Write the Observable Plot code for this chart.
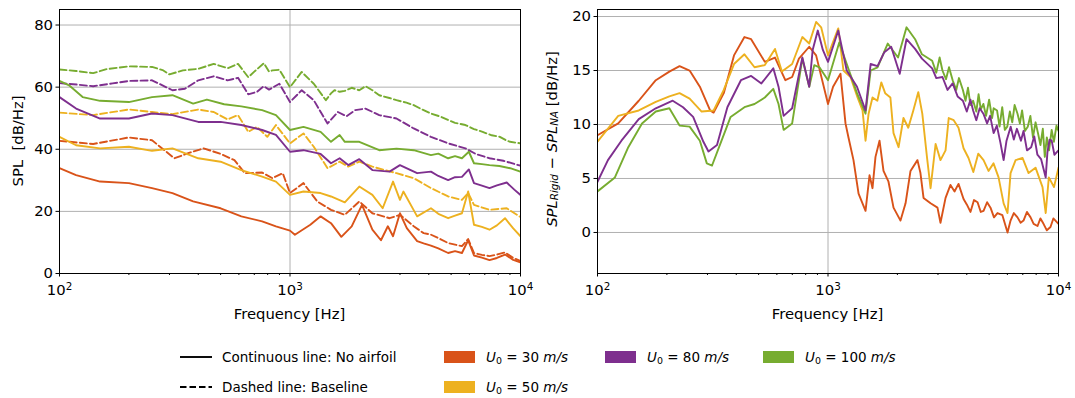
<!DOCTYPE html>
<html><head><meta charset="utf-8">
<script src="https://cdn.jsdelivr.net/npm/d3@7"></script>
<script src="https://cdn.jsdelivr.net/npm/@observablehq/plot@0.6"></script>
<style>
body{margin:0;background:#fff;}
#wrap{width:1075px;height:398px;position:relative;font-family:"DejaVu Sans",sans-serif;background:#fff;}
#row{display:flex;height:330px;}
#row svg{display:block;}
</style></head><body>
<div id="wrap"><div id="row"></div><div id="legend"></div></div>
<script>
// ---------- Data (frequency Hz, value) ----------
// Left panel: SPL [dB/Hz]
const L30_solid = [[100,33.9],[118,31.7],[150,29.6],[200,29.1],[252,27.5],[309,25.9],[380,23.2],[500,21],[615,18.4],[757,16.8],[869,15.2],[1000,13.8],[1050,12.5],[1225,15.7],[1358,18.4],[1506,16.2],[1670,11.8],[1852,15.2],[2053,22.1],[2277,14.1],[2481,10.7],[2658,15.2],[2799,12],[2999,19.4],[3212,14.6],[3561,10.4],[3800,9.7],[4088,9],[4400,8.1],[4854,6.6],[5200,7.2],[5571,6.6],[5928,10.7],[6284,5.8],[6800,5.1],[7337,4.3],[7900,5.0],[8568,6.1],[9300,4.4],[10000,3.6]];
const L30_dash = [[100,42.7],[140,41.7],[200,43.8],[252,42.9],[315,37.1],[367,38.9],[422,40.3],[500,38.5],[574,36.5],[637,32.3],[757,32.5],[839,30.7],[930,32.3],[1000,25.9],[1144,29.1],[1313,23.2],[1506,20.5],[1729,18.9],[1998,23.2],[2277,19.4],[2704,17.8],[2999,18.9],[3441,15.2],[3800,13.0],[4088,12.5],[4400,11.4],[4854,9.8],[5200,9.3],[5571,8.8],[5928,11.1],[6284,6.6],[6800,6.0],[7337,5.6],[7900,6.1],[8568,6.8],[9300,5.0],[10000,4]];
const L50_solid = [[100,44],[118,41.3],[150,40.3],[200,40.8],[252,39.5],[309,40.3],[400,37.1],[500,36],[615,33.3],[757,31.2],[869,29.6],[1000,25.3],[1144,26.4],[1358,25.9],[1506,24.8],[1729,22.9],[1998,28],[2277,25.3],[2524,21],[2799,29.6],[2999,23.7],[3104,26.4],[3561,18.4],[4088,21],[4400,19.2],[4854,17.8],[5200,18.6],[5571,19.4],[5928,26.4],[6284,15.7],[6800,15.0],[7337,14.1],[7900,15.5],[8568,17.8],[9300,14.5],[10000,12]];
const L50_dash = [[100,51.8],[140,51],[200,52.8],[252,52],[309,51.3],[400,52.8],[467,52],[536,49.6],[595,51],[659,45.6],[719,47.2],[797,44],[869,47.8],[1000,41.9],[1144,45.1],[1268,40.8],[1455,33.9],[1642,36],[1789,34.4],[1998,36],[2277,34.4],[2897,32.3],[3441,30.7],[4088,27.5],[4854,24.8],[5571,23.7],[5928,25.9],[6284,22.1],[7337,20.5],[8715,21],[10000,18.2]];
const L80_solid = [[100,56.8],[118,53.1],[150,49.9],[200,49.9],[252,51.5],[309,51],[400,48.8],[500,48.8],[615,47.8],[757,46.2],[869,44.6],[1000,39.2],[1144,39.7],[1358,38.5],[1506,35.5],[1642,37.1],[1789,34.9],[1998,36.8],[2277,33.3],[2704,32.8],[2999,34.9],[3561,32.3],[4088,32.8],[4400,31.4],[4854,30.1],[5200,31.0],[5571,31.1],[5969,33.5],[6284,29.1],[6800,28.3],[7337,27.5],[7900,28.4],[8715,29.3],[9400,27.0],[10000,25.3]];
const L80_dash = [[100,61.3],[120,60.8],[140,60.3],[170,61.2],[200,62],[252,62.2],[309,59],[350,59.5],[400,62.2],[467,63.5],[536,62.2],[595,63],[659,57.7],[720,58.5],[770,60.3],[811,59.2],[899,61.1],[1000,55.2],[1124,59],[1268,55.8],[1455,48.3],[1614,52],[1759,50.6],[1917,52.6],[2125,53.1],[2439,51],[2897,49.9],[3441,46.7],[4088,44],[4854,41.9],[5767,40.3],[6394,38.5],[7337,37.1],[8423,36.3],[10000,34.7]];
const L100_solid = [[100,62],[110,60.6],[126,56.8],[150,55.6],[200,55.2],[252,56.8],[309,57.4],[380,54.7],[436,56],[518,54.5],[615,53.8],[757,52.6],[869,51],[1000,46.2],[1144,47.2],[1358,45.6],[1506,42.4],[1642,44.6],[1729,42.4],[1998,42.4],[2439,39.7],[2897,40.2],[3441,39.7],[4088,38.1],[4400,38.6],[4854,37.1],[5200,37.8],[5571,37.1],[5969,39.2],[6284,35.5],[6800,35.2],[7337,34.9],[8100,34.6],[9020,33.9],[10000,32.8]];
const L100_dash = [[100,65.7],[118,65.2],[140,64.5],[160,65.8],[200,66.7],[252,66.5],[280,65.5],[300,64.1],[343,65.4],[400,65.9],[467,67.5],[536,66.1],[595,67.5],[659,63.2],[700,65],[770,67.7],[811,65],[839,65.4],[899,65.6],[1000,60],[1124,64.9],[1268,61.1],[1431,55.8],[1506,58],[1559,59],[1642,58.5],[1729,58.8],[1852,59.8],[1998,59],[2125,60.3],[2277,59],[2439,57.4],[2700,56.5],[2897,55.8],[3200,55],[3441,54.2],[3700,53],[4088,51.5],[4500,50.5],[4854,49.4],[5200,48.5],[5767,47.8],[6284,46.5],[6850,45.6],[7500,44.5],[8136,44],[8700,42.8],[9020,42.4],[10000,41.9]];

// Right panel: SPL_Rigid - SPL_NA [dB/Hz]
const R30 = [[100,9],[123,10.1],[151,12.2],[179,14.1],[205,14.9],[227,15.4],[251,15],[278,13.5],[308,11.3],[319,11.1],[353,12.9],[391,16.4],[434,18.1],[464,17.9],[532,15.8],[589,16.2],[653,14.1],[699,14.4],[748,16.1],[829,17.2],[888,16.4],[1000,11.9],[1052,13.5],[1133,14.7],[1191,10.1],[1227,8.8],[1290,6.7],[1357,3.6],[1455,2.0],[1514,5.3],[1560,4.1],[1607,7.0],[1673,8.5],[1741,5.7],[1830,4.7],[1924,2.3],[2063,1.1],[2170,2.7],[2280,5.7],[2444,6.7],[2518,5.5],[2597,3.2],[2786,2.7],[2985,2.3],[3076,0.9],[3236,3.2],[3399,4.4],[3540,3.8],[3683,4.5],[3873,3.1],[4000,2.6],[4150,1.9],[4300,3.0],[4455,2.8],[4600,1.9],[4730,2.0],[4900,2.8],[5070,2.3],[5250,1.4],[5435,1.8],[5710,1.6],[6010,0],[6195,1.1],[6400,1.8],[6640,1.4],[6850,0.9],[7050,1.1],[7300,1.9],[7565,1.4],[7800,0.8],[8110,0.6],[8350,1.3],[8610,0.8],[8900,0.2],[9230,0.5],[9500,1.3],[9700,1.1],[10000,0.8]];
const R50 = [[100,8.4],[123,10.8],[151,11.3],[179,12.1],[205,12.6],[227,12.9],[251,12.4],[283,11.2],[319,11.3],[353,13.2],[391,15.6],[434,16.5],[480,15.3],[532,15.5],[589,17],[631,14.9],[699,15.6],[774,18.1],[829,17.5],[888,19.5],[934,19],[1000,16.4],[1108,18.9],[1167,15],[1252,14.4],[1343,12.5],[1412,11.3],[1455,8.5],[1500,11],[1560,12.5],[1637,12.2],[1703,13.9],[1770,12.9],[1865,12.5],[1924,9.2],[2024,7.9],[2125,10.6],[2230,9.7],[2345,11.3],[2465,13],[2565,11],[2690,6.9],[2786,4.1],[2930,8.2],[3076,6.7],[3236,7.6],[3340,10.6],[3510,10.4],[3683,9.7],[3873,7.8],[4070,6.9],[4270,5.6],[4485,7.3],[4730,6.7],[4970,5.7],[5225,6.4],[5495,5.1],[5780,2.7],[6010,1.8],[6195,5.5],[6515,6.7],[6980,6.9],[7415,5.5],[7950,6.0],[8525,4.2],[8800,1.8],[9080,5.1],[9560,4.2],[10000,6.0]];
const R80 = [[100,4.7],[111,6.7],[127,8.5],[151,10.5],[179,11.5],[212,12.2],[235,11.6],[260,10.7],[288,8.4],[303,7.5],[330,8.1],[366,11.6],[419,14.1],[464,14.5],[514,13.8],[579,15.2],[610,13.5],[642,10.8],[699,11.5],[774,16.2],[829,13.5],[858,16.9],[903,18.7],[950,16.9],[1000,15.8],[1108,18.7],[1206,15],[1336,13.5],[1455,11.3],[1531,15.6],[1640,15.4],[1756,16.7],[1880,17.2],[2047,14.7],[2191,17.9],[2387,17],[2556,16.1],[2831,15.2],[2950,14.3],[3137,14.4],[3300,13.2],[3474,13.8],[3650,12.6],[3848,12.2],[4000,11.2],[4150,12.3],[4262,11.3],[4400,10.4],[4550,11.5],[4722,11],[4900,10.1],[5050,10.8],[5231,9.2],[5400,9.9],[5600,8.3],[5780,6.7],[5950,8.5],[6202,9.8],[6400,8.6],[6600,9.6],[6871,8.5],[7050,9.4],[7300,7.6],[7610,7.9],[7850,8.9],[8100,7.2],[8400,6.8],[8800,5.1],[8950,7.4],[9150,8.6],[9341,8.5],[9600,7.2],[10000,7.6]];
const R100 = [[100,3.8],[119,5.1],[136,7.9],[156,10.1],[179,11.2],[205,11.5],[227,9.9],[251,9.8],[278,8.5],[298,6.4],[314,6.2],[341,8.2],[378,10.7],[434,11.6],[480,11.9],[532,12.5],[579,13.3],[610,11.9],[642,9.5],[699,10.1],[774,16.1],[829,13.5],[872,15.5],[918,15.3],[1000,14.1],[1119,17.6],[1206,15.6],[1336,12.9],[1455,11],[1531,15],[1640,15.3],[1816,17.5],[2013,16.2],[2191,19],[2387,17.9],[2556,16.5],[2831,15.9],[2950,14.8],[3050,16.2],[3137,15],[3250,14.2],[3350,15.3],[3474,14.1],[3600,13.2],[3700,14.3],[3848,13.2],[3950,12.2],[4050,13.4],[4150,11.8],[4262,12.2],[4400,11.2],[4500,12.8],[4600,11.4],[4722,11.9],[4850,10.8],[5000,12.3],[5150,10.6],[5231,11.5],[5412,11.3],[5550,9.8],[5700,11.6],[5850,9.5],[5995,9.8],[6150,11.2],[6300,10.2],[6450,11.8],[6640,11],[6800,10.1],[6950,11.3],[7150,9.4],[7356,9.8],[7550,10.8],[7750,8.8],[7950,10.2],[8147,9.2],[8350,8.1],[8550,9.6],[8722,7],[8900,8.8],[9100,7.6],[9341,9.5],[9550,8.4],[9800,9.9],[10000,9.4]];

// Ticks & labels
const xMajor = [100, 1000, 10000];
const xMajorExp = ["2", "3", "4"];
const xMinor = [200,300,400,500,600,700,800,900,2000,3000,4000,5000,6000,7000,8000,9000];
const yTicksLeft = [0, 20, 40, 60, 80];
const yTicksRight = [0, 5, 10, 15, 20];
const speeds = ["30", "50", "80", "100"];

// ---------- Styles ----------
const colors = {"30": "#D95319", "50": "#EDB120", "80": "#7E2F8E", "100": "#77AC30"};
const FONT = "DejaVu Sans";
const FS = 14.8;     // axis text
const LFS = 13.5;    // legend text
const GRID = "#b0b0b0";
const LW = 1.9;
const DASH = "7,3.2";

function panel({width, marginLeft, marginRight, yDomain, yTicks, series}) {
  const svg = Plot.plot({
    width, height: 330, marginLeft, marginRight, marginTop: 9, marginBottom: 57,
    style: {fontFamily: FONT, fontSize: FS + "px", color: "black", background: "white", overflow: "visible"},
    x: {type: "log", domain: [100, 10000]},
    y: {domain: yDomain},
    marks: [
      Plot.gridY({ticks: yTicks, stroke: GRID, strokeOpacity: 1, strokeWidth: 1}),
      Plot.gridX({ticks: [1000], stroke: GRID, strokeOpacity: 1, strokeWidth: 1}),
      ...series.map(s => Plot.line(s.data, {x: d => d[0], y: d => d[1], stroke: s.color, strokeWidth: LW,
        strokeDasharray: s.dash ? DASH : undefined, strokeLinejoin: "round", clip: true})),
      Plot.axisY({ticks: yTicks, tickSize: 3.5, tickPadding: 3, label: null, fontSize: FS}),
      Plot.axisX({ticks: xMajor, tickSize: 3.5, tickPadding: 7, label: null, fontSize: FS,
        tickFormat: d => "10^" + xMajorExp[xMajor.indexOf(d)]}),
      Plot.axisX({ticks: xMinor, tickSize: 2, tickFormat: () => "", label: null}),
      Plot.frame({stroke: "black", strokeWidth: 1})
    ]
  });
  // render exponents as superscripts
  d3.select(svg).selectAll("text").each(function() {
    const m = /^10\^(\d)$/.exec(this.textContent);
    if (m) {
      const t = d3.select(this);
      t.text("10");
      t.append("tspan").attr("font-size", FS * 0.7).attr("dy", "-0.45em").text(m[1]);
    }
  });
  return svg;
}

const row = document.getElementById("row");

const left = panel({
  width: 540, marginLeft: 59, marginRight: 20, yDomain: [0, 85], yTicks: yTicksLeft,
  series: [
    {data: L100_dash, color: colors["100"], dash: true},
    {data: L80_dash, color: colors["80"], dash: true},
    {data: L50_dash, color: colors["50"], dash: true},
    {data: L30_dash, color: colors["30"], dash: true},
    {data: L100_solid, color: colors["100"]},
    {data: L80_solid, color: colors["80"]},
    {data: L50_solid, color: colors["50"]},
    {data: L30_solid, color: colors["30"]}
  ]
});
const right = panel({
  width: 535, marginLeft: 57, marginRight: 17, yDomain: [-3.8, 20.65], yTicks: yTicksRight,
  series: [
    {data: R30, color: colors["30"]},
    {data: R50, color: colors["50"]},
    {data: R100, color: colors["100"]},
    {data: R80, color: colors["80"]}
  ]
});
row.appendChild(left);
row.appendChild(right);

function xLabel(svg, cx) {
  d3.select(svg).append("text").attr("x", cx).attr("y", 313)
    .attr("text-anchor", "middle").attr("dominant-baseline", "central")
    .attr("font-family", FONT).attr("font-size", FS).attr("fill", "black").text("Frequency [Hz]");
}
xLabel(left, 59 + (540 - 20 - 59) / 2);
xLabel(right, 57 + (535 - 17 - 57) / 2);

d3.select(left).append("text").attr("transform", "translate(17,141) rotate(-90)")
  .attr("text-anchor", "middle").attr("dominant-baseline", "central")
  .attr("font-family", FONT).attr("font-size", FS).attr("fill", "black").attr("xml:space", "preserve")
  .text("SPL  [dB/Hz]");

const ry = d3.select(right).append("text").attr("transform", "translate(11,139) rotate(-90)")
  .attr("text-anchor", "middle").attr("dominant-baseline", "central")
  .attr("font-family", FONT).attr("font-size", FS).attr("fill", "black");
ry.append("tspan").attr("font-style", "italic").text("SPL");
ry.append("tspan").attr("font-style", "italic").attr("font-size", FS * 0.7).attr("dy", 3).text("Rigid");
ry.append("tspan").attr("dy", -3).text(" − ");
ry.append("tspan").attr("font-style", "italic").text("SPL");
ry.append("tspan").attr("font-style", "italic").attr("font-size", FS * 0.7).attr("dy", 3).text("NA");
ry.append("tspan").attr("dy", -3).text(" [dB/Hz]");

// ---------- Legend ----------
const lg = d3.select("#legend").append("svg").attr("width", 1075).attr("height", 68)
  .style("display", "block").attr("font-family", FONT).attr("font-size", LFS);
const rows = [27, 57];
lg.append("line").attr("x1", 180).attr("x2", 212).attr("y1", rows[0]).attr("y2", rows[0])
  .attr("stroke", "black").attr("stroke-width", LW);
lg.append("text").attr("x", 222).attr("y", rows[0]).attr("dominant-baseline", "central").text("Continuous line: No airfoil");
lg.append("line").attr("x1", 180).attr("x2", 212).attr("y1", rows[1]).attr("y2", rows[1])
  .attr("stroke", "black").attr("stroke-width", LW).attr("stroke-dasharray", "6.5,3");
lg.append("text").attr("x", 222).attr("y", rows[1]).attr("dominant-baseline", "central").text("Dashed line: Baseline");

const legendPos = {"30": [444, rows[0]], "50": [444, rows[1]], "80": [605, rows[0]], "100": [763, rows[0]]};
speeds.forEach(s => {
  const [x, y] = legendPos[s];
  lg.append("rect").attr("x", x).attr("y", y - 6).attr("width", 31).attr("height", 12).attr("fill", colors[s]);
  const t = lg.append("text").attr("x", x + 42).attr("y", y).attr("dominant-baseline", "central");
  t.append("tspan").attr("font-style", "italic").text("U");
  t.append("tspan").attr("font-size", LFS * 0.7).attr("dy", 3).text("0");
  t.append("tspan").attr("dy", -3).text(" = " + s + " ");
  t.append("tspan").attr("font-style", "italic").text("m/s");
});
</script></body></html>
